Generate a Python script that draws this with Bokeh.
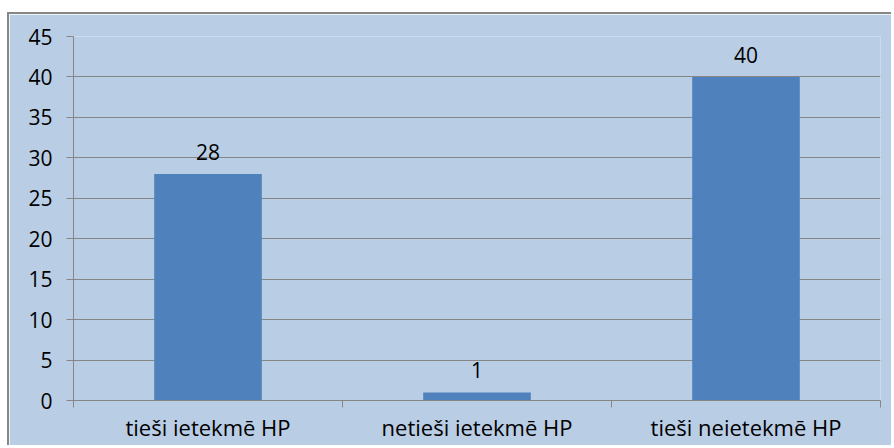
from bokeh.plotting import figure
from bokeh.models import ColumnDataSource, FixedTicker, LabelSet, Range1d
from bokeh.core.properties import value
from bokeh.embed import file_html
from bokeh.resources import INLINE

categories = ["tieši ietekmē HP", "netieši ietekmē HP", "tieši neietekmē HP"]
values = [28, 1, 40]
y_ticks = [0, 5, 10, 15, 20, 25, 30, 35, 40, 45]

xs = [i + 0.5 for i in range(len(categories))]
bounds = [i for i in range(len(categories) + 1)]
src = ColumnDataSource(dict(x=xs, top=values, label=[str(v) for v in values]))

BG = "#B9CDE5"
GRID = "#868686"
FONT = "Open Sans"

p = figure(width=884, height=433, x_range=Range1d(0, len(categories)), y_range=Range1d(0, 45),
           output_backend="svg", toolbar_location=None,
           min_border_left=64, min_border_right=13, min_border_top=22, min_border_bottom=47)
p.styles = {"border-left": "2px solid #878787", "border-top": "2px solid #878787",
            "margin-top": "12px", "margin-left": "7px"}
p.background_fill_color = BG
p.border_fill_color = BG
p.outline_line_color = None

p.vbar(x="x", top="top", width=0.4, source=src, fill_color="#4F81BD", line_color=None)

p.xgrid.grid_line_color = None
p.ygrid.grid_line_color = GRID
p.ygrid.grid_line_width = 1
p.ygrid.ticker = FixedTicker(ticks=y_ticks)

ya = p.yaxis[0]
ya.ticker = FixedTicker(ticks=y_ticks)
ya.axis_line_color = GRID
ya.major_tick_line_color = GRID
ya.major_tick_out = 7
ya.major_tick_in = 0
ya.minor_tick_line_color = None
ya.major_label_standoff = 14
ya.major_label_text_font = FONT
ya.major_label_text_font_size = "21px"
ya.major_label_text_color = "#000000"

xa = p.xaxis[0]
xa.ticker = FixedTicker(ticks=xs, minor_ticks=bounds)
xa.major_label_overrides = {x: c for x, c in zip(xs, categories)}
xa.axis_line_color = GRID
xa.major_tick_line_color = None
xa.major_tick_out = 0
xa.major_tick_in = 0
xa.minor_tick_line_color = GRID
xa.minor_tick_out = 7
xa.minor_tick_in = 0
xa.major_label_standoff = 4
xa.major_label_text_font = FONT
xa.major_label_text_font_size = "22px"
xa.major_label_text_color = "#000000"

labels = LabelSet(x="x", y="top", text="label", source=src, y_offset=14,
                  text_align="center", text_baseline="alphabetic",
                  text_font=value(FONT), text_font_size="21px", text_color="#000000")
p.add_layout(labels)

open("out.html", "w").write(file_html(p, INLINE))
